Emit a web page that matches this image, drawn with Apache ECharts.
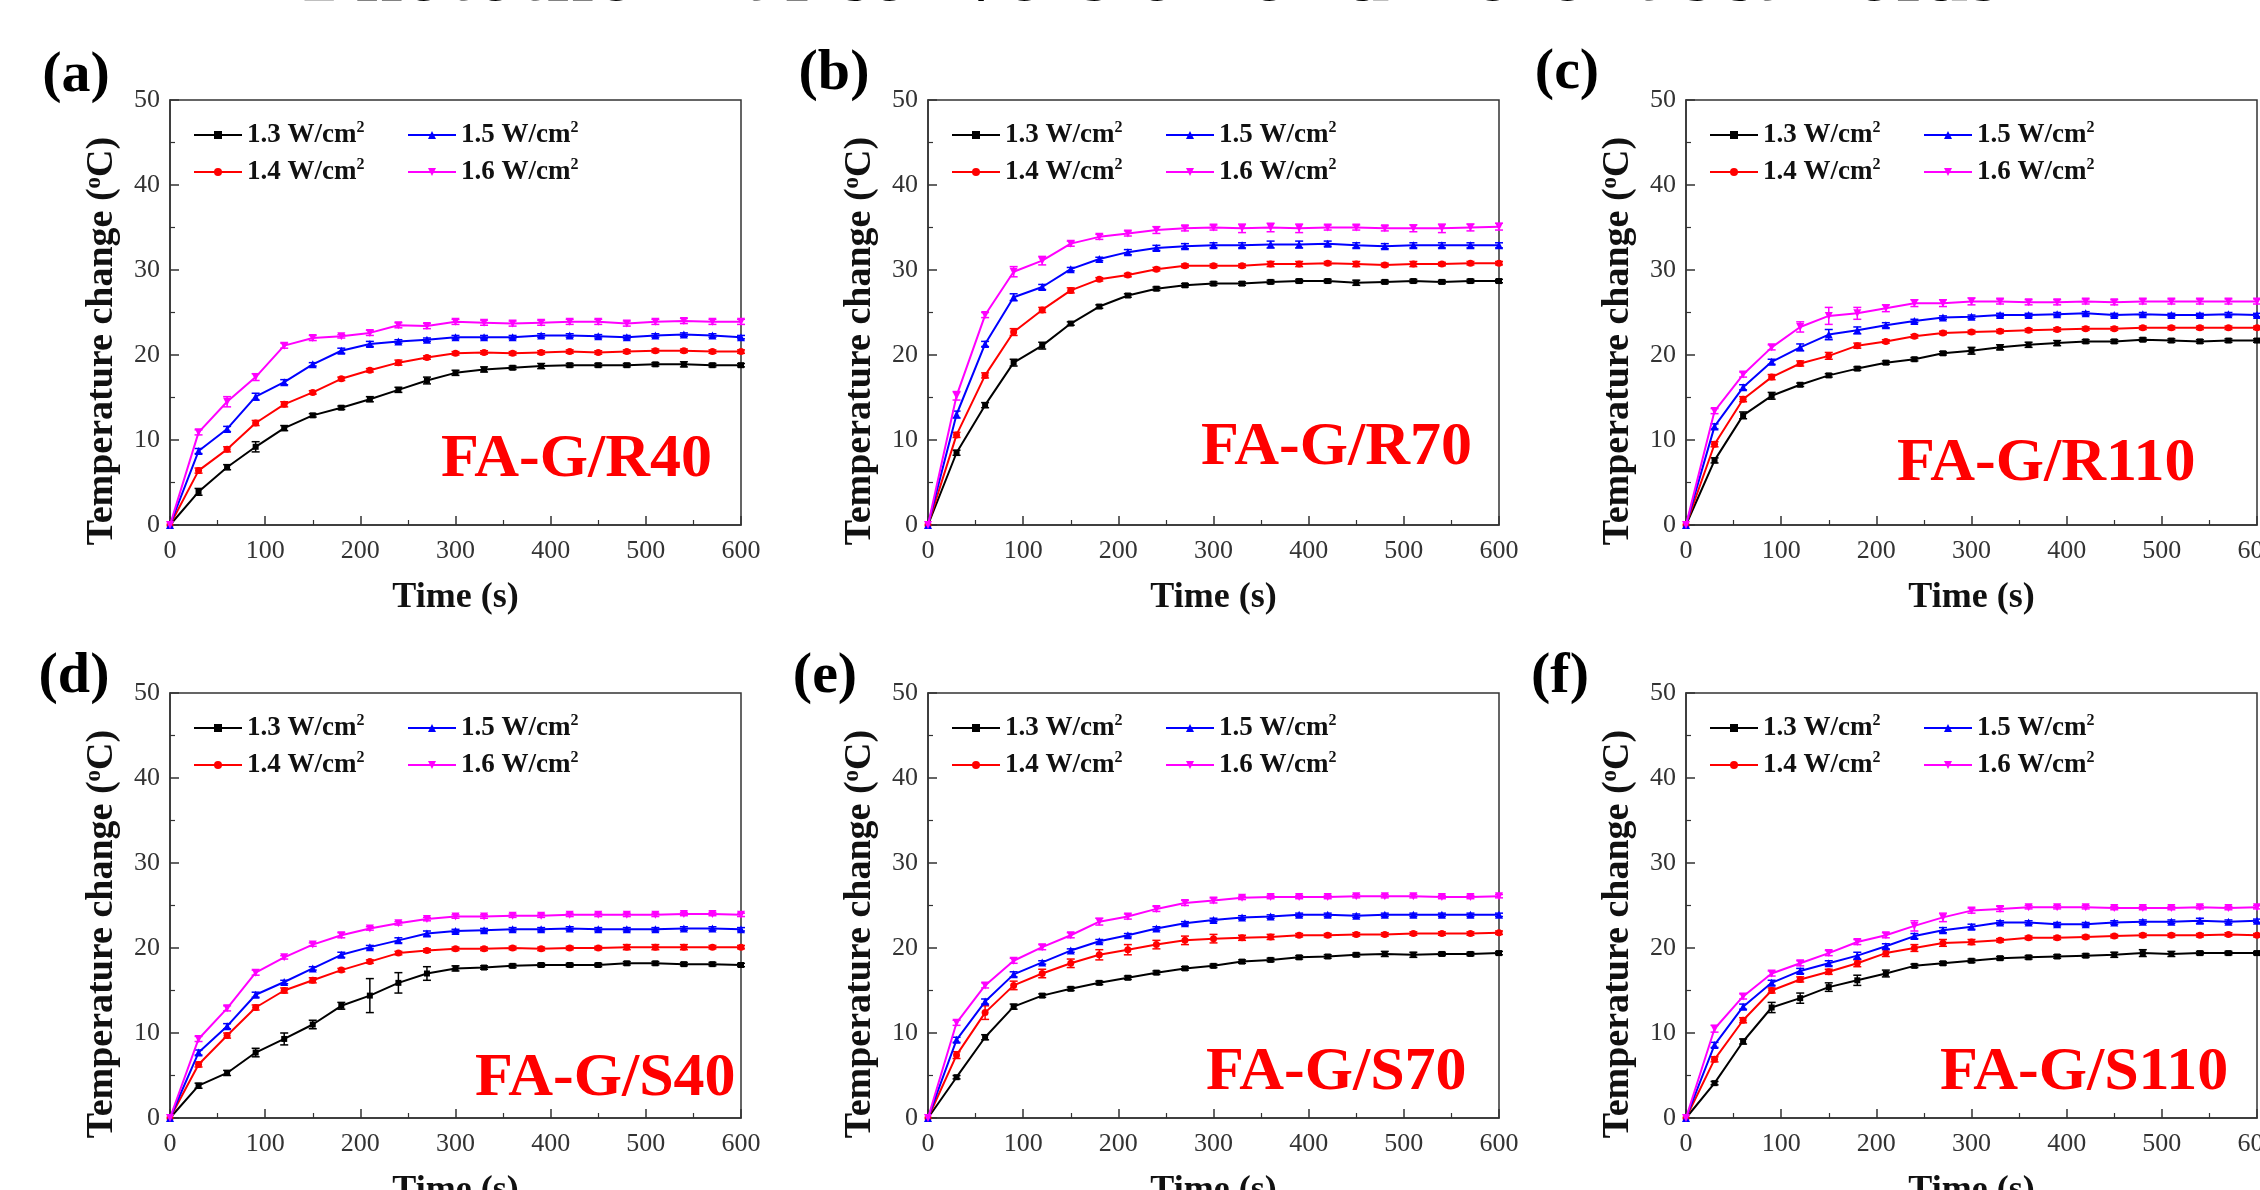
<!DOCTYPE html>
<html><head><meta charset="utf-8">
<script src="https://cdn.jsdelivr.net/npm/echarts@6/dist/echarts.min.js"></script>
<style>html,body{margin:0;padding:0;background:#fff}#c{width:2260px;height:1190px}</style>
</head><body><div id="c"></div>
<script>
// ---------- data ----------
const time = [0,30,60,90,120,150,180,210,240,270,300,330,360,390,420,450,480,510,540,570,600];
const seriesNames = ['1.3 W/cm2','1.4 W/cm2','1.5 W/cm2','1.6 W/cm2'];
const panelLetters = ['(a)','(b)','(c)','(d)','(e)','(f)'];
const sampleLabels = ['FA-G/R40','FA-G/R70','FA-G/R110','FA-G/S40','FA-G/S70','FA-G/S110'];
const chartTitle = 'Photothermal conversion of different scaffolds';
const xTitle = 'Time (s)';
const yTitle = 'Temperature change ({sup|o}C)';

const a13 = [0,3.9,6.8,9.2,11.4,12.9,13.8,14.8,15.9,17.0,17.9,18.3,18.5,18.7,18.8,18.8,18.8,18.9,18.9,18.8,18.8];
const a14 = [0,6.4,8.9,12.0,14.2,15.6,17.2,18.2,19.1,19.7,20.2,20.3,20.2,20.3,20.4,20.3,20.4,20.5,20.5,20.4,20.4];
const a15 = [0,8.7,11.3,15.1,16.8,18.9,20.5,21.3,21.6,21.8,22.1,22.1,22.1,22.3,22.3,22.2,22.1,22.3,22.4,22.3,22.1];
const a16 = [0,10.9,14.5,17.4,21.1,22.0,22.2,22.6,23.5,23.4,23.9,23.8,23.7,23.8,23.9,23.9,23.7,23.9,24.0,23.9,23.9];

const b13 = [0,8.5,14.1,19.1,21.1,23.7,25.7,27.0,27.8,28.2,28.4,28.4,28.6,28.7,28.7,28.5,28.6,28.7,28.6,28.7,28.7];
const b14 = [0,10.6,17.6,22.7,25.3,27.6,28.9,29.4,30.1,30.5,30.5,30.5,30.7,30.7,30.8,30.7,30.6,30.7,30.7,30.8,30.8];
const b15 = [0,13.0,21.3,26.8,28.0,30.1,31.3,32.1,32.6,32.8,32.9,32.9,33.0,33.0,33.1,32.9,32.8,32.9,32.9,32.9,32.9];
const b16 = [0,15.2,24.7,29.8,31.1,33.1,33.9,34.3,34.7,34.9,35.0,34.9,35.0,34.9,35.0,35.0,34.9,34.9,34.9,35.0,35.1];

const c13 = [0,7.6,12.9,15.2,16.5,17.6,18.4,19.1,19.5,20.2,20.5,20.9,21.2,21.4,21.6,21.6,21.8,21.7,21.6,21.7,21.7];
const c14 = [0,9.5,14.8,17.4,19.0,19.9,21.1,21.6,22.2,22.6,22.7,22.8,22.9,23.0,23.1,23.1,23.2,23.2,23.2,23.2,23.2];
const c15 = [0,11.6,16.2,19.2,20.9,22.4,22.9,23.5,24.0,24.4,24.5,24.7,24.7,24.8,24.9,24.7,24.8,24.7,24.7,24.8,24.7];
const c16 = [0,13.4,17.7,20.9,23.3,24.6,24.9,25.5,26.1,26.1,26.3,26.3,26.2,26.2,26.3,26.2,26.3,26.3,26.3,26.3,26.3];

const d13 = [0,3.8,5.3,7.7,9.3,11.0,13.2,14.4,15.9,17.0,17.6,17.7,17.9,18.0,18.0,18.0,18.2,18.2,18.1,18.1,18.0];
const d14 = [0,6.3,9.7,13.0,15.0,16.2,17.4,18.4,19.4,19.7,19.9,19.9,20.0,19.9,20.0,20.0,20.1,20.1,20.1,20.1,20.1];
const d15 = [0,7.7,10.8,14.5,16.0,17.6,19.2,20.1,20.9,21.7,22.0,22.1,22.2,22.2,22.3,22.2,22.2,22.2,22.3,22.3,22.2];
const d16 = [0,9.3,12.9,17.1,18.9,20.4,21.5,22.3,22.9,23.4,23.7,23.7,23.8,23.8,23.9,23.9,23.9,23.9,24.0,24.0,23.9];

const e13 = [0,4.8,9.5,13.1,14.4,15.2,15.9,16.5,17.1,17.6,17.9,18.4,18.6,18.9,19.0,19.2,19.3,19.2,19.3,19.3,19.4];
const e14 = [0,7.4,12.4,15.6,17.0,18.2,19.2,19.8,20.4,20.9,21.1,21.2,21.3,21.5,21.5,21.6,21.6,21.7,21.7,21.7,21.8];
const e15 = [0,9.2,13.7,16.9,18.3,19.7,20.8,21.5,22.3,22.9,23.3,23.6,23.7,23.9,23.9,23.8,23.9,23.9,23.9,23.9,23.9];
const e16 = [0,11.2,15.6,18.5,20.1,21.5,23.1,23.7,24.6,25.3,25.6,25.9,26.0,26.0,26.0,26.1,26.1,26.1,26.0,26.0,26.1];

const f13 = [0,4.1,9.0,13.0,14.1,15.4,16.2,17.0,17.9,18.2,18.5,18.8,18.9,19.0,19.1,19.2,19.4,19.3,19.4,19.4,19.4];
const f14 = [0,6.9,11.5,15.0,16.3,17.2,18.2,19.4,20.0,20.6,20.7,20.9,21.2,21.2,21.3,21.4,21.5,21.5,21.5,21.6,21.5];
const f15 = [0,8.6,13.1,15.9,17.3,18.2,19.1,20.2,21.4,22.1,22.5,23.0,23.0,22.8,22.8,23.0,23.1,23.1,23.2,23.1,23.2];
const f16 = [0,10.5,14.3,17.0,18.2,19.4,20.7,21.5,22.6,23.6,24.4,24.6,24.8,24.8,24.8,24.7,24.7,24.7,24.8,24.7,24.8];

// error bars (± values)
const errA13 = [0,0.4,0.3,0.6,0.3,0.2,0.2,0.3,0.3,0.4,0.3,0.3,0.2,0.3,0.2,0.2,0.2,0.2,0.3,0.2,0.2];
const errA14 = [0,0.3,0.3,0.3,0.3,0.2,0.2,0.2,0.3,0.2,0.2,0.2,0.2,0.2,0.2,0.2,0.2,0.2,0.2,0.2,0.2];
const errA15 = [0,0.3,0.3,0.4,0.3,0.2,0.3,0.3,0.2,0.2,0.2,0.2,0.2,0.2,0.2,0.2,0.2,0.2,0.2,0.2,0.2];
const errA16 = [0,0.3,0.6,0.4,0.3,0.3,0.2,0.3,0.3,0.3,0.3,0.3,0.3,0.3,0.3,0.3,0.3,0.3,0.3,0.3,0.3];
const errB13 = [0,0.3,0.3,0.4,0.4,0.2,0.2,0.2,0.2,0.2,0.2,0.2,0.2,0.2,0.2,0.3,0.2,0.2,0.2,0.2,0.2];
const errB14 = [0,0.3,0.3,0.4,0.3,0.3,0.2,0.2,0.2,0.2,0.2,0.2,0.3,0.3,0.2,0.3,0.2,0.3,0.2,0.2,0.2];
const errB15 = [0,0.4,0.3,0.4,0.3,0.2,0.2,0.3,0.3,0.3,0.3,0.3,0.4,0.4,0.3,0.3,0.3,0.3,0.3,0.3,0.3];
const errB16 = [0,0.5,0.3,0.6,0.5,0.3,0.3,0.3,0.4,0.3,0.3,0.5,0.5,0.5,0.3,0.3,0.3,0.4,0.5,0.4,0.4];
const errC13 = [0,0.3,0.4,0.4,0.2,0.2,0.2,0.2,0.2,0.2,0.4,0.3,0.3,0.3,0.2,0.2,0.2,0.2,0.2,0.2,0.2];
const errC14 = [0,0.3,0.3,0.3,0.3,0.4,0.3,0.2,0.2,0.2,0.2,0.2,0.2,0.2,0.2,0.2,0.2,0.2,0.2,0.2,0.2];
const errC15 = [0,0.3,0.3,0.3,0.4,0.6,0.4,0.3,0.2,0.2,0.2,0.2,0.2,0.2,0.2,0.2,0.2,0.2,0.2,0.2,0.2];
const errC16 = [0,0.3,0.3,0.3,0.6,1.0,0.7,0.4,0.4,0.4,0.4,0.3,0.3,0.3,0.3,0.3,0.3,0.3,0.3,0.3,0.3];
const errD13 = [0,0.3,0.3,0.5,0.7,0.5,0.4,2.0,1.2,0.8,0.3,0.2,0.2,0.2,0.2,0.2,0.2,0.2,0.2,0.2,0.2];
const errD14 = [0,0.3,0.3,0.3,0.3,0.3,0.2,0.2,0.2,0.2,0.2,0.2,0.2,0.2,0.2,0.2,0.3,0.3,0.3,0.2,0.2];
const errD15 = [0,0.3,0.3,0.3,0.2,0.2,0.3,0.2,0.3,0.3,0.2,0.2,0.2,0.2,0.2,0.2,0.2,0.2,0.2,0.2,0.2];
const errD16 = [0,0.3,0.3,0.3,0.2,0.2,0.3,0.2,0.2,0.2,0.2,0.2,0.2,0.2,0.2,0.2,0.2,0.2,0.2,0.2,0.2];
const errE13 = [0,0.2,0.3,0.3,0.2,0.2,0.2,0.2,0.2,0.2,0.2,0.2,0.2,0.2,0.2,0.2,0.3,0.3,0.2,0.2,0.2];
const errE14 = [0,0.4,0.8,0.5,0.5,0.5,0.6,0.6,0.5,0.5,0.5,0.3,0.3,0.2,0.2,0.2,0.2,0.2,0.2,0.2,0.2];
const errE15 = [0,0.3,0.3,0.3,0.2,0.2,0.2,0.2,0.2,0.2,0.2,0.2,0.2,0.2,0.2,0.2,0.2,0.2,0.2,0.2,0.2];
const errE16 = [0,0.3,0.3,0.3,0.3,0.3,0.4,0.3,0.3,0.3,0.3,0.2,0.2,0.2,0.2,0.2,0.2,0.2,0.2,0.2,0.2];
const errF13 = [0,0.2,0.3,0.6,0.6,0.5,0.6,0.4,0.2,0.2,0.2,0.2,0.2,0.2,0.2,0.3,0.4,0.3,0.2,0.2,0.2];
const errF14 = [0,0.3,0.3,0.3,0.3,0.3,0.4,0.4,0.4,0.4,0.3,0.2,0.2,0.2,0.2,0.2,0.2,0.2,0.2,0.2,0.2];
const errF15 = [0,0.3,0.3,0.3,0.3,0.3,0.4,0.3,0.3,0.3,0.3,0.2,0.2,0.2,0.2,0.2,0.2,0.2,0.3,0.2,0.2];
const errF16 = [0,0.4,0.3,0.3,0.3,0.3,0.3,0.3,0.6,0.5,0.3,0.3,0.2,0.2,0.2,0.2,0.2,0.2,0.2,0.2,0.2];

const panelValues = [[a13,a14,a15,a16],[b13,b14,b15,b16],[c13,c14,c15,c16],[d13,d14,d15,d16],[e13,e14,e15,e16],[f13,f14,f15,f16]];
const panelErrors = [[errA13,errA14,errA15,errA16],[errB13,errB14,errB15,errB16],[errC13,errC14,errC15,errC16],
                     [errD13,errD14,errD15,errD16],[errE13,errE14,errE15,errE16],[errF13,errF14,errF15,errF16]];

// ---------- layout & style ----------
const FONT = "'Liberation Serif','Times New Roman',serif";
const gridPos = [[170,100],[928,100],[1686,100],[170,693],[928,693],[1686,693]];
const GW = 571, GH = 425;
const letterPos = [[76,76],[834,74],[1567,73],[74,677],[825,677],[1560,677]];
const labelPos = [[441,460],[1201,448],[1897,464],[475,1079],[1206,1073],[1940,1073]];
const colors = ['#000000','#ff0000','#0000ff','#ff00ff'];
const symbols = ['rect','circle','triangle','triangle'];
const symRot = [0,0,0,180];
const symSize = [6,7,8,8];

function errRender(params, api){
  const x = api.value(0), y = api.value(1), e = api.value(2);
  if (!e) return null;
  const hi = api.coord([x, y + e]), lo = api.coord([x, y - e]);
  const w = 4;
  const style = {stroke: api.visual('color'), lineWidth: 1.5};
  return {type:'group', children:[
    {type:'line', shape:{x1:hi[0],y1:hi[1],x2:lo[0],y2:lo[1]}, style:style},
    {type:'line', shape:{x1:hi[0]-w,y1:hi[1],x2:hi[0]+w,y2:hi[1]}, style:style},
    {type:'line', shape:{x1:lo[0]-w,y1:lo[1],x2:lo[0]+w,y2:lo[1]}, style:style}
  ]};
}

const grids=[], xAxes=[], yAxes=[], series=[], legends=[], graphics=[];
const axisLineStyle = {color:'#333', width:1.5};
const legendText = {fontFamily:FONT, fontWeight:'bold', fontSize:27, color:'#111', lineHeight:30,
  rich:{sup:{fontFamily:FONT, fontWeight:'bold', fontSize:16, color:'#111', verticalAlign:'top', lineHeight:18}}};

panelValues.forEach((vals, i) => {
  const gl = gridPos[i][0], gt = gridPos[i][1];
  grids.push({left:gl, top:gt, width:GW, height:GH, show:true, borderColor:'#333', borderWidth:1.5,
              containLabel:false, outerBoundsMode:'none'});
  xAxes.push({gridIndex:i, type:'value', min:0, max:600, interval:100,
    name:xTitle, nameLocation:'middle', nameGap:55,
    nameTextStyle:{fontFamily:FONT, fontWeight:'bold', fontSize:36, color:'#111'},
    axisLine:{show:true, lineStyle:axisLineStyle},
    axisTick:{show:true, inside:true, length:9, lineStyle:axisLineStyle},
    minorTick:{show:true, splitNumber:2, length:5, lineStyle:{color:'#333', width:1.2}},
    splitLine:{show:false},
    axisLabel:{fontFamily:FONT, fontSize:26, color:'#333', margin:13, showMaxLabel:true, showMinLabel:true}
  });
  yAxes.push({gridIndex:i, type:'value', min:0, max:50, interval:10,
    axisLine:{show:true, lineStyle:axisLineStyle},
    axisTick:{show:true, inside:true, length:9, lineStyle:axisLineStyle},
    minorTick:{show:true, splitNumber:2, length:5, lineStyle:{color:'#333', width:1.2}},
    splitLine:{show:false},
    axisLabel:{fontFamily:FONT, fontSize:26, color:'#333', margin:10}
  });
  vals.forEach((v, k) => {
    series.push({type:'line', name:seriesNames[k], xAxisIndex:i, yAxisIndex:i,
      data: time.map((t, j) => [t, v[j]]),
      symbol:symbols[k], symbolRotate:symRot[k], symbolSize:symSize[k], showAllSymbol:true,
      lineStyle:{width:2, color:colors[k]}, itemStyle:{color:colors[k]}, z:3, animation:false});
    series.push({type:'custom', xAxisIndex:i, yAxisIndex:i, renderItem:errRender,
      data: time.map((t, j) => [t, v[j], panelErrors[i][k][j]]),
      encode:{x:0, y:1}, itemStyle:{color:colors[k]}, z:2, silent:true, animation:false});
  });
  const legBase = {orient:'vertical', itemWidth:48, itemHeight:10, itemGap:7, padding:0,
    selectedMode:false, textStyle:legendText, formatter: n => n.replace('cm2','cm{sup|2}')};
  legends.push(Object.assign({}, legBase, {data:[seriesNames[0], seriesNames[1]], left:gl+23, top:gt+20}));
  legends.push(Object.assign({}, legBase, {data:[seriesNames[2], seriesNames[3]], left:gl+237, top:gt+20}));
  // rotated y-axis title
  graphics.push({type:'text', x:gl-68, y:gt+241, rotation:Math.PI/2, z:10,
    style:{text:yTitle, fontFamily:FONT, fontWeight:'bold', fontSize:38, fill:'#111',
      align:'center', verticalAlign:'middle', textAlign:'center', textVerticalAlign:'middle',
      rich:{sup:{fontFamily:FONT, fontWeight:'bold', fontSize:23, fill:'#111', verticalAlign:'top', lineHeight:24}}}});
  graphics.push({type:'text', x:letterPos[i][0], y:letterPos[i][1], z:10,
    style:{text:panelLetters[i], font:"bold 58px 'Liberation Serif', serif", fill:'#000',
      align:'center', verticalAlign:'middle', textAlign:'center', textVerticalAlign:'middle'}});
  graphics.push({type:'text', x:labelPos[i][0], y:labelPos[i][1], z:10,
    style:{text:sampleLabels[i], font:"bold 62px 'Liberation Serif', serif", fill:'#ff0000',
      align:'left', verticalAlign:'middle', textAlign:'left', textVerticalAlign:'middle'}});
});
graphics.push({type:'text', x:1152, y:-22, z:10,
  style:{text:chartTitle, font:"bold 86px 'Liberation Serif', serif", fill:'#000',
    align:'center', verticalAlign:'middle', textAlign:'center', textVerticalAlign:'middle'}});

const chart = echarts.init(document.getElementById('c'), null, {renderer:'canvas'});
chart.setOption({
  backgroundColor:'#ffffff',
  animation:false,
  grid:grids, xAxis:xAxes, yAxis:yAxes, legend:legends, series:series, graphic:graphics
});
</script></body></html>
